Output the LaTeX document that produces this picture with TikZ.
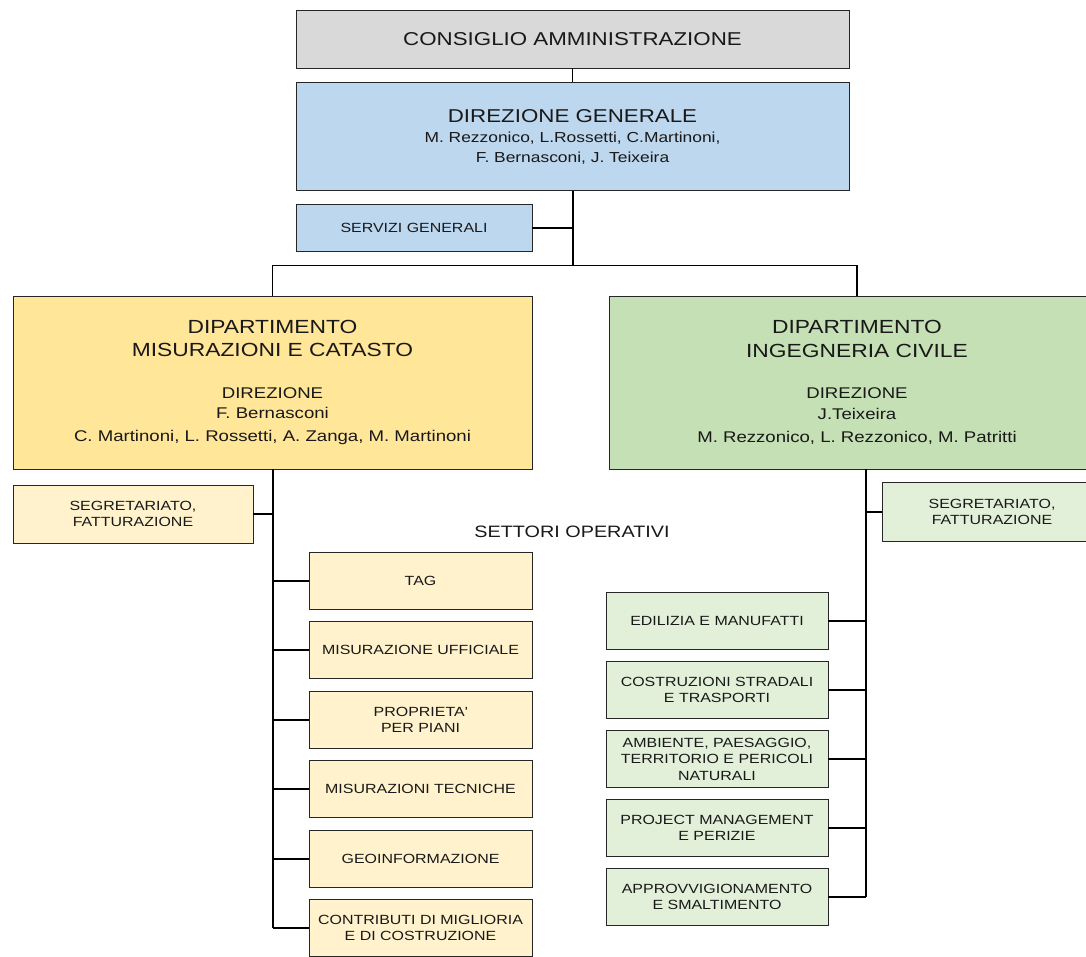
\documentclass[tikz,border=0pt]{standalone}
\usepackage{fontspec}
\setmainfont[FakeStretch=1.2]{Liberation Sans}
\usepackage{xcolor}
\usepackage{tikz}
\usetikzlibrary{positioning,calc}

\definecolor{cdagray}{HTML}{D9D9D9}
\definecolor{dgblue}{HTML}{BDD7EE}
\definecolor{mcyellow}{HTML}{FFE699}
\definecolor{mclight}{HTML}{FFF2CC}
\definecolor{icgreen}{HTML}{C5E0B4}
\definecolor{iclight}{HTML}{E2F0D9}
\newcommand{\fsz}[2]{\fontsize{#1}{#2}\selectfont}

\begin{document}
\begin{tikzpicture}[x=1pt, y=-1pt,
    box/.style={draw=black!85, line width=0.9pt, align=center, inner sep=0pt, text=black!90},
    small/.style={box, font=\fsz{13.3}{16.5}},
    settore/.style={small, minimum width=223, minimum height=57},
    wire/.style={line width=1.6pt},
    trunk/.style={line width=2pt}]
    \useasboundingbox (0,0) rectangle (1086,956);
    \clip (0,0) rectangle (1086,956);

    \node[box, fill=cdagray, minimum width=553, minimum height=58, font=\fsz{18.6}{22}] (cda) at (572.5,39) {CONSIGLIO AMMINISTRAZIONE};
    \node[box, fill=dgblue, minimum width=553, minimum height=108, font=\fsz{14.5}{20}] (dg) at (572.5,136.5)
        {\fsz{18.6}{20}DIREZIONE GENERALE\\ M. Rezzonico, L.Rossetti, C.Martinoni,\\ F. Bernasconi, J. Teixeira};
    \node[small, fill=dgblue, minimum width=236, minimum height=47] (sg) at (414,228) {SERVIZI GENERALI};

    % dipartimenti
    \node[box, fill=mcyellow, minimum width=519, minimum height=173, font=\fsz{15.5}{21.5}] (mc) at (272.5,382.5)
        {\fsz{19}{21.5}DIPARTIMENTO\\[2pt] \fsz{19}{21.5}MISURAZIONI E CATASTO\\[20pt] DIREZIONE\\[-1pt] F. Bernasconi\\[1.5pt] C. Martinoni, L. Rossetti, A. Zanga, M. Martinoni};
    \node[box, fill=icgreen, minimum width=496, minimum height=173, font=\fsz{15.5}{21.5}] (ic) at (857,382.5)
        {\fsz{19}{21.5}DIPARTIMENTO\\[2pt] \fsz{19}{21.5}INGEGNERIA CIVILE\\[20pt] DIREZIONE\\[-1pt] J.Teixeira\\[1.5pt] M. Rezzonico, L. Rezzonico, M. Patritti};

    \node[small, fill=mclight, minimum width=240, minimum height=58] (mcseg) at (133,514) {SEGRETARIATO,\\FATTURAZIONE};
    \node[small, fill=iclight, minimum width=220, minimum height=58.5] (icseg) at (992,512) {SEGRETARIATO,\\FATTURAZIONE};
    \node[font=\fsz{16.5}{20}, text=black!90] (settori) at (572,532) {SETTORI OPERATIVI};

    \foreach \n/\t in {1/TAG, 2/MISURAZIONE UFFICIALE, 3/{PROPRIETA\textquotesingle\\PER PIANI},
        4/MISURAZIONI TECNICHE, 5/GEOINFORMAZIONE, 6/{CONTRIBUTI DI MIGLIORIA\\E DI COSTRUZIONE}}
        \node[settore, fill=mclight] (mc\n) at (420.5,{round(511+69.5*\n)}) {\t};
    \foreach \n/\t in {1/EDILIZIA E MANUFATTI, 2/{COSTRUZIONI STRADALI\\E TRASPORTI},
        3/{AMBIENTE, PAESAGGIO,\\TERRITORIO E PERICOLI\\NATURALI}, 4/{PROJECT MANAGEMENT\\E PERIZIE},
        5/{APPROVVIGIONAMENTO\\E SMALTIMENTO}}
        \node[settore, minimum width=222, fill=iclight] (ic\n) at (717,{round(551.3+69.2*\n)}) {\t};

    % collegamenti
    \coordinate (bus) at (572.5,265.5);
    \draw[wire] (cda) -- (dg);
    \draw[trunk] (dg) -- (bus);
    \draw[wire] (sg) -- (sg -| bus);
    \draw[wire] (mc) |- (bus) -| (ic);

    \draw[trunk] (mc.south) -- (mc.south |- mc6.west);
    \draw[wire] (mcseg.east) -- (mcseg.east -| mc.south);
    \foreach \n in {1,...,6}
        \draw[wire] (mc\n.west) -- (mc\n.west -| mc.south);

    \coordinate (ictrunk) at ($(ic.south)+(9,0)$);
    \draw[trunk] (ictrunk) -- (ictrunk |- ic5.east);
    \draw[wire] (icseg.west) -- (icseg.west -| ictrunk);
    \foreach \n in {1,...,5}
        \draw[wire] (ic\n.east) -- (ic\n.east -| ictrunk);
\end{tikzpicture}
\end{document}
